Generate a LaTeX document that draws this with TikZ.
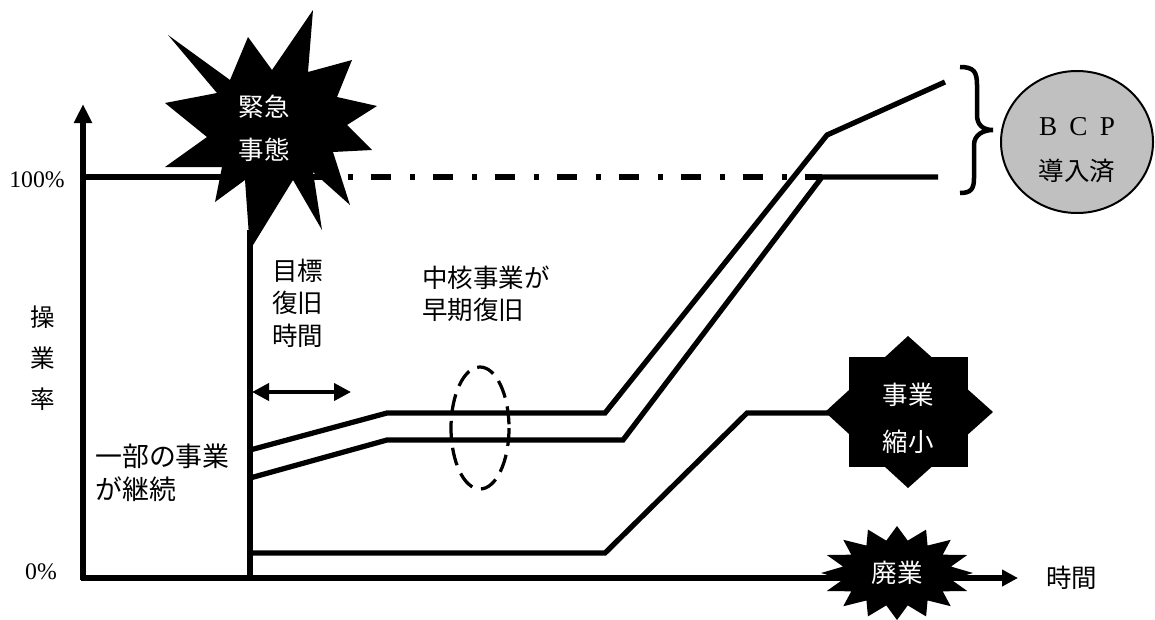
\documentclass[tikz,border=0pt]{standalone}
\usepackage{fontspec}
\setmainfont{Liberation Serif}
\newfontfamily\jp{Noto Sans CJK JP}
\usetikzlibrary{arrows.meta}
\definecolor{bcpgray}{RGB}{192,192,192}

\begin{document}
\begin{tikzpicture}[x=0.02cm,y=-0.02cm,
  rate/.style={line width=0.105cm},
  jptext/.style={font=\jp\fontsize{14.5pt}{18.5pt}\selectfont,inner sep=0pt,align=left},
  burstlabel/.style={font=\jp\fontsize{14.5pt}{24.5pt}\selectfont,text=white,inner sep=0pt,align=center}]
\useasboundingbox (0,0) rectangle (1155,619);
% axes
\draw[rate,-{Triangle[length=0.38cm,width=0.34cm]}] (83,580) -- (83,104);
\draw[rate,-{Triangle[length=0.32cm,width=0.32cm]}] (81,578) -- (1018,578);
\draw(37,180) node (p100) {\fontsize{13.5pt}{15pt}\selectfont 100\%};
\draw(41,572) node (p0) {\fontsize{13.5pt}{15pt}\selectfont 0\%};
\draw(43,358) node[jptext,align=center,font=\jp\fontsize{14pt}{23.3pt}\selectfont] (rate) {操\\業\\率};
\draw(1046,578) node[jptext,anchor=west] (time) {時間};
% operating level lines
\draw[rate] (83,177) -- (230,177);
\draw[rate] (250,580) -- (250,230);
\draw[rate,dash pattern=on 0.4cm off 0.38cm on 0.1cm off 0.36cm] (309,177) -- (822,177);
\draw[rate] (250,450) -- (387,413) -- (605,413) -- (827,135) -- (945,82);
\draw[rate] (250,478) -- (387,440) -- (623,440) -- (822,177) -- (938,177);
\draw[rate] (250,553) -- (605,553) -- (747,413) -- (830,413);
% target recovery time
\draw[line width=0.08cm,{Triangle[length=0.34cm,width=0.34cm]}-{Triangle[length=0.34cm,width=0.34cm]}] (252,392) -- (351,392);
\draw[line width=0.065cm,dash pattern=on 0.36cm off 0.18cm] (480,428) ellipse [x radius=29, y radius=61];
\draw(272,303) node[jptext,anchor=west] (target) {目標\\復旧\\時間};
\draw(422,294) node[jptext,anchor=west] (core) {中核事業が\\早期復旧};
\draw(95,473) node[jptext,anchor=west,font=\jp\fontsize{15.3pt}{18.8pt}\selectfont] (part) {一部の事業\\が継続};
% emergency burst
\fill (313,10) -- (308,72) -- (352,60) -- (337,97) -- (377,106) -- (347,125) -- (372,150)
  -- (333,152) -- (350,205) -- (313,172) -- (322,230) -- (293,180) -- (250,250) -- (245,180)
  -- (215,202) -- (222,167) -- (165,167) -- (207,137) -- (165,103) -- (217,93) -- (168,35)
  -- (230,80) -- (248,37) -- (272,70) -- cycle;
\draw(264,128) node[burstlabel] (emerg) {緊急\\事態};
% shrink star
\fill (825,412) -- (908,336) -- (993,412) -- (908,488) -- cycle;
\fill (849,357) rectangle (968,467);
\draw(908,418) node[burstlabel,font=\jp\fontsize{14.5pt}{26.7pt}\selectfont] (shrink) {事業\\縮小};
% closure burst
\fill plot[domain=0:31,samples=32] ({897+(mod(\x,2)==0 ? 76 : 55)*cos(\x*11.25)},{573+(mod(\x,2)==0 ? 47 : 33)*sin(\x*11.25)}) -- cycle;
\draw(897,573) node[burstlabel] (close) {廃業};
% BCP
\draw[line width=0.09cm] (960,67) .. controls (974,67) and (977,72) .. (977,85) -- (977,115)
  .. controls (977,125) and (983,130) .. (993,130) .. controls (983,130) and (974,135) .. (974,145)
  -- (974,178) .. controls (974,189) and (971,193) .. (960,193);
\draw[line width=0.04cm,fill=bcpgray] (1077,142) ellipse [x radius=76, y radius=71];
\draw(1077,150) node[align=center,inner sep=0pt,font=\fontsize{15.5pt}{25.6pt}\selectfont] (bcp)
  {B\hspace{0.45em}C\hspace{0.45em}P\\{\jp\fontsize{14.5pt}{25.6pt}\selectfont 導入済}};
\end{tikzpicture}
\end{document}
